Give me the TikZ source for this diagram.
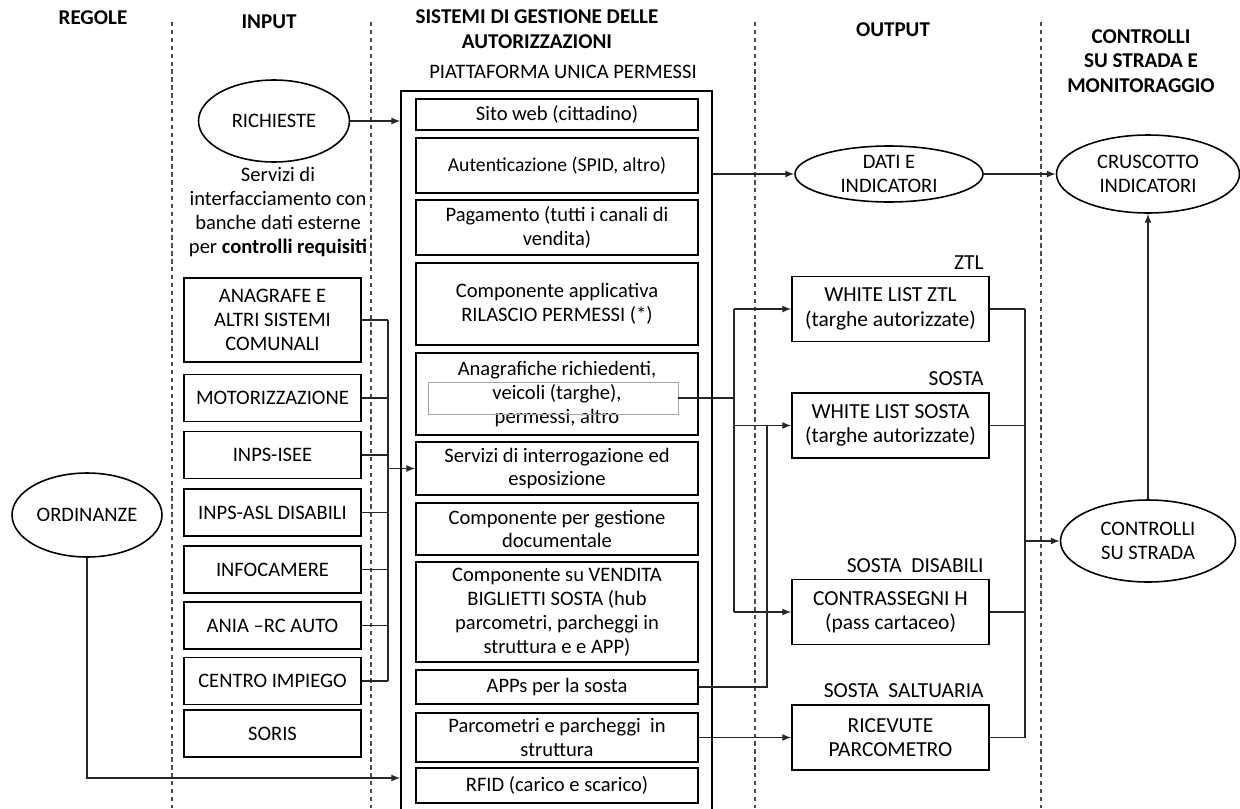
\documentclass[tikz,border=0pt]{standalone}
\usepackage{fontspec}
\setmainfont{Carlito}
\usetikzlibrary{shapes.geometric}

\tikzset{
  box/.style={draw, line width=0.9pt, minimum width=#1, align=center, inner sep=1pt},
  inbox/.style={box=3.54cm, minimum height=0.94cm},
  pupbox/.style={box=5.64cm},
  outbox/.style={box=3.94cm, minimum height=1.3cm, font=\fontsize{12.2}{13.8}\selectfont},
  oval/.style={draw, ellipse, line width=0.9pt, align=center, inner sep=0pt},
  colhead/.style={font=\fontsize{12}{14}\selectfont\bfseries, align=center},
  boxtag/.style={anchor=south east, font=\fontsize{12.2}{13.8}\selectfont},
  colsep/.style={dash pattern=on 2.5pt off 2pt, black!70, line width=0.6pt},
  conn/.style={line width=0.75pt, black!85},
}

\begin{document}
\begin{tikzpicture}[x=0.02cm, y=-0.02cm, >=latex, font=\fontsize{11.7}{13.6}\selectfont]
    \useasboundingbox (0,0) rectangle (1240,808);
    \draw[colsep] (172,22) -- (172,808);
    \draw[colsep] (371,22) -- (371,808);
    \draw[colsep] (755,22) -- (755,808);
    \draw[colsep] (1041,22) -- (1041,808);
    %
    \node[colhead] (hreg) at (93,18) {REGOLE};
    \node[colhead] (hin) at (269,22) {INPUT};
    \node[colhead] (hsis) at (537,29) {SISTEMI DI GESTIONE DELLE\\AUTORIZZAZIONI};
    \node (hpup) at (563,72) {PIATTAFORMA UNICA PERMESSI};
    \node[colhead] (hout) at (893,30) {OUTPUT};
    \node[colhead] (hctrl) at (1141,61) {CONTROLLI\\SU STRADA E\\MONITORAGGIO};
    % regole e input
    \node[oval, minimum width=3cm, minimum height=1.68cm] (ord) at (87,515) {ORDINANZE};
    \node[oval, minimum width=3.02cm, minimum height=1.64cm] (rich) at (274,121) {RICHIESTE};
    \node[align=center] (servtxt) at (278,212) {Servizi di\\interfacciamento con\\banche dati esterne\\per \textbf{controlli requisiti}};
    \node[inbox, minimum height=1.68cm] (anag) at (272.5,320) {ANAGRAFE E\\ALTRI SISTEMI\\COMUNALI};
    \node[inbox] (motor) at (272.5,398) {MOTORIZZAZIONE};
    \node[inbox] (isee) at (272.5,455) {INPS-ISEE};
    \node[inbox] (asl) at (272.5,512.5) {INPS-ASL DISABILI};
    \node[inbox] (infoc) at (272.5,569.5) {INFOCAMERE};
    \node[inbox] (ania) at (272.5,625.5) {ANIA –RC AUTO};
    \node[inbox] (centro) at (272.5,681) {CENTRO IMPIEGO};
    \node[inbox] (soris) at (272.5,733.5) {SORIS};
    % piattaforma
    \node[draw, line width=0.9pt, minimum width=6.22cm, minimum height=14.4cm] (pup) at (556.5,451) {};
    \node[pupbox, minimum height=0.62cm] (sito) at (557,114.5) {Sito web (cittadino)};
    \node[pupbox, minimum height=1.1cm, font=\fontsize{11.2}{13}\selectfont] (auth) at (557,165.5) {Autenticazione (SPID, altro)};
    \node[pupbox, minimum height=1.1cm] (pagam) at (557,227.5) {Pagamento (tutti i canali di\\vendita)};
    \node[pupbox, minimum height=1.64cm] (rilas) at (557,304) {Componente applicativa\\RILASCIO PERMESSI (*)};
    \node[pupbox, minimum height=1.64cm] (anagr) at (557,394) {Anagrafiche richiedenti,\\veicoli (targhe),\\permessi, altro};
    \node[draw=black!35, minimum width=5cm, minimum height=0.64cm] (anatxt) at (553,398) {};
    \node[pupbox, minimum height=1.06cm] (interr) at (557,468.5) {Servizi di interrogazione ed\\esposizione};
    \node[pupbox, minimum height=1.04cm] (docum) at (557,529) {Componente per gestione\\documentale};
    \node[pupbox, minimum height=2cm] (vendita) at (557,612) {Componente su VENDITA\\BIGLIETTI SOSTA (hub\\parcometri, parcheggi in\\struttura e e APP)};
    \node[pupbox, minimum height=0.68cm] (apps) at (557,687) {APPs per la sosta};
    \node[pupbox, minimum height=0.98cm] (parco) at (557,737.5) {Parcometri e parcheggi~ in\\struttura};
    \node[pupbox, minimum height=0.7cm] (rfid) at (557,785.5) {RFID (carico e scarico)};
    % output e controlli
    \node[oval, minimum width=3.76cm, minimum height=1.12cm] (dati) at (889,174) {DATI E\\INDICATORI};
    \node[oval, minimum width=3.66cm, minimum height=1.56cm] (crusc) at (1148,174) {CRUSCOTTO\\INDICATORI};
    \node[oval, minimum width=3.5cm, minimum height=1.64cm] (strada) at (1148,541) {CONTROLLI\\SU STRADA};
    \node[outbox] (wlztl) at (890.5,309) {WHITE LIST ZTL\\(targhe autorizzate)};
    \node[boxtag] (tztl) at (wlztl.north east) {ZTL};
    \node[outbox] (wlsosta) at (890.5,425.5) {WHITE LIST SOSTA\\(targhe autorizzate)};
    \node[boxtag] (tsosta) at (wlsosta.north east) {SOSTA};
    \node[outbox] (contr) at (890.5,612) {CONTRASSEGNI H\\(pass cartaceo)};
    \node[boxtag] (tdis) at (contr.north east) {SOSTA~ DISABILI};
    \node[outbox] (ricev) at (890.5,737.5) {RICEVUTE\\PARCOMETRO};
    \node[boxtag] (tsalt) at (ricev.north east) {SOSTA~ SALTUARIA};
    %
    \coordinate (busin) at (388,0);
    \coordinate (busana) at (734,0);
    \coordinate (busapp) at (767,0);
    \coordinate (busout) at (1025,0);
    \coordinate (ordin) at (pup.west |- 0,778);
    %
    \draw[conn, ->] (rich) -- (rich -| pup.west);
    \draw[conn, ->] (ord.south) |- (ordin);
    \draw[conn] (anag.east) -- (anag.east -| busin);
    \draw[conn] (motor.east) -- (motor.east -| busin);
    \draw[conn] (isee.east) -- (isee.east -| busin);
    \draw[conn] (asl.east) -- (asl.east -| busin);
    \draw[conn] (infoc.east) -- (infoc.east -| busin);
    \draw[conn] (ania.east) -- (ania.east -| busin);
    \draw[conn] (centro.east) -- (centro.east -| busin);
    \draw[conn] (anag.east -| busin) -- (centro.east -| busin);
    \draw[conn, ->] (interr.west -| busin) -- (interr.west);
    %
    \draw[conn, ->] (pup.east |- dati) -- (dati);
    \draw[conn, ->] (dati) -- (crusc);
    \draw[conn, ->] (strada) -- (crusc);
    \draw[conn] (anatxt.east) -- (anatxt.east -| busana);
    \draw[conn] (wlztl.west -| busana) -- (contr.west -| busana);
    \draw[conn, ->] (wlztl.west -| busana) -- (wlztl.west);
    \draw[conn, ->] (wlsosta.west -| busana) -- (wlsosta.west);
    \draw[conn, ->] (contr.west -| busana) -- (contr.west);
    \draw[conn] (apps.east) -| (wlsosta.west -| busapp);
    \draw[conn, ->] (parco.east) -- (ricev.west);
    %
    \draw[conn] (wlztl.east) -- (wlztl.east -| busout);
    \draw[conn] (wlsosta.east) -- (wlsosta.east -| busout);
    \draw[conn] (contr.east) -- (contr.east -| busout);
    \draw[conn] (ricev.east) -- (ricev.east -| busout);
    \draw[conn] (wlztl.east -| busout) -- (ricev.east -| busout);
    \draw[conn, ->] (strada.west -| busout) -- (strada.west);
  \end{tikzpicture}
\end{document}
